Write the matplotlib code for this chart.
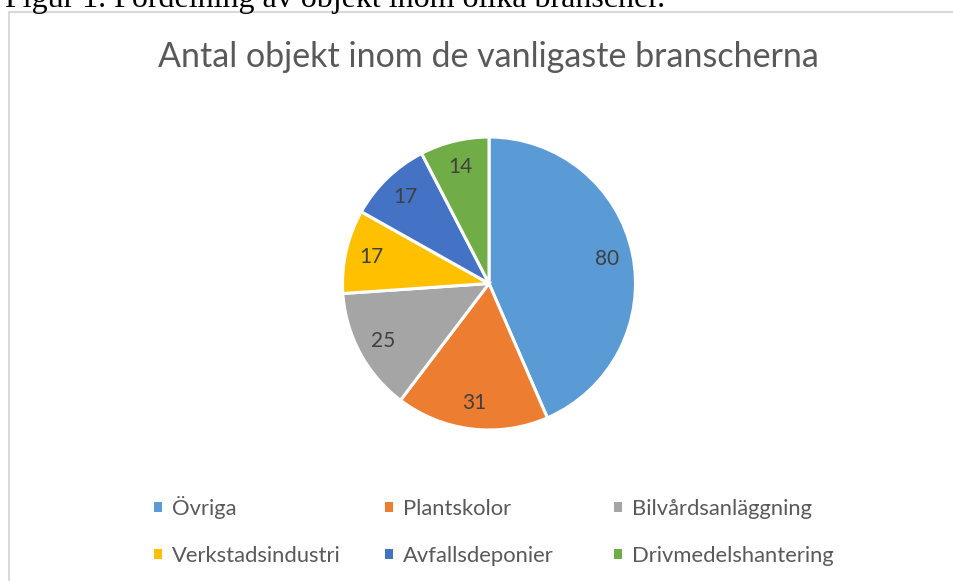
import matplotlib
matplotlib.use("Agg")
import matplotlib.pyplot as plt
from matplotlib.patches import Rectangle

categories = ["Övriga", "Plantskolor", "Bilvårdsanläggning",
              "Verkstadsindustri", "Avfallsdeponier", "Drivmedelshantering"]
values = [80, 31, 25, 17, 17, 14]
colors = ["#5B9BD5", "#ED7D31", "#A5A5A5", "#FFC000", "#4472C4", "#70AD47"]
title = "Antal objekt inom de vanligaste branscherna"
caption = "Figur 1. Fördelning av objekt inom olika branscher."

W, H = 954, 581
fig = plt.figure(figsize=(W / 100, H / 100), dpi=100)
fig.patch.set_facecolor("white")

def fx(px):
    return px / W

def fy(py):
    return 1 - py / H

# chart frame
fig.patches.append(Rectangle((fx(9), fy(H + 10)), fx(W + 20), (H + 10 - 11.5) / H,
                             transform=fig.transFigure, fill=False,
                             edgecolor="#D9D9D9", linewidth=1.5))

# caption (cut off at top, as in the source page)
fig.text(fx(5), fy(7), caption, family="Liberation Serif", fontsize=23,
         color="black", ha="left", va="baseline")

# title
fig.text(fx(488), fy(57), title, family="Lato", fontsize=24.5,
         color="#595959", ha="center", va="center")

# pie
cx, cy, r = 489, 283.5, 146.5
ax = fig.add_axes([fx(cx - r), fy(cy + r), 2 * r / W, 2 * r / H])
wedges, texts = ax.pie(values, colors=colors, startangle=90, counterclock=False,
                       labels=[str(v) for v in values], labeldistance=0.82,
                       wedgeprops=dict(edgecolor="white", linewidth=2.2),
                       textprops=dict(family="Lato", fontsize=15, color="#404040",
                                      ha="center", va="center"))
for t in texts:
    t.set_ha("center")
    t.set_va("center")
ax.set_aspect("equal")
ax.set_xlim(-1, 1)
ax.set_ylim(-1, 1)
ax.axis("off")

# legend: 2 rows x 3 columns, one legend entry each, aligned on their bottoms
col_x = [154, 385, 614]
row_bottom = [519, 566]
for i in range(len(categories)):
    row, col = divmod(i, 3)
    leg = fig.legend([wedges[i]], [categories[i]],
                     loc="lower left",
                     bbox_to_anchor=(fx(col_x[col]), fy(row_bottom[row])),
                     ncol=1, frameon=False,
                     prop=dict(family="Lato", size=15.8), labelcolor="#595959",
                     handlelength=0.35, handleheight=0.35, handletextpad=0.45,
                     borderpad=0, borderaxespad=0)
    for h in leg.legend_handles:
        h.set_edgecolor("none")

fig.savefig("out.png", dpi=100)
